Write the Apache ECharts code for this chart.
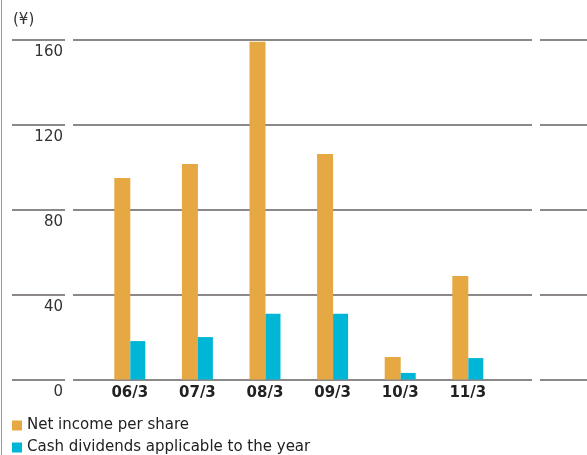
<!DOCTYPE html>
<html>
<head>
<meta charset="utf-8">
<script src="https://cdn.jsdelivr.net/npm/echarts@6/dist/echarts.min.js"></script>
<style>
html,body{margin:0;padding:0;background:#fff;}
#chart{width:587px;height:455px;}
</style>
</head>
<body>
<div id="chart"></div>
<script>
var categories = ['06/3', '07/3', '08/3', '09/3', '10/3', '11/3'];
var netIncome = [95.0, 101.6, 159.2, 106.3, 10.6, 48.8];
var dividends = [18.1, 20.0, 31.0, 31.0, 3.1, 10.1];
var seriesNames = ['Net income per share', 'Cash dividends applicable to the year'];
var yMin = 0, yMax = 160, yStep = 40;

var FONT = 'DejaVu Sans';
var GRID_COLOR = '#8d8888';
var TOP = 40, BOTTOM = 75.5;

function lineGrid(left, right) {
  return {left: left, right: right, top: TOP, bottom: BOTTOM, containLabel: false};
}
function hiddenX(gi) {
  return {gridIndex: gi, type: 'value', show: false};
}
function splitY(gi, extra) {
  var o = {
    gridIndex: gi, type: 'value', min: yMin, max: yMax, interval: yStep,
    axisLine: {show: false}, axisTick: {show: false},
    axisLabel: {show: false},
    splitLine: {show: true, lineStyle: {color: GRID_COLOR, width: 2}}
  };
  if (extra) for (var k in extra) o[k] = extra[k];
  return o;
}
function legendFor(name, top) {
  return {
    orient: 'horizontal', left: 7, top: top,
    itemWidth: 10, itemHeight: 10, itemGap: 0,
    icon: 'rect',
    data: [name],
    textStyle: {fontFamily: FONT, fontSize: 15, color: '#222', padding: [0, 0, 0, 0]}
  };
}

var chart = echarts.init(document.getElementById('chart'), null, {renderer: 'canvas'});
chart.setOption({
  animation: false,
  backgroundColor: '#ffffff',
  textStyle: {fontFamily: FONT},
  title: {
    text: '(¥)', left: 8, top: 8,
    textStyle: {fontFamily: FONT, fontSize: 15, fontWeight: 'normal', color: '#333'}
  },
  legend: [legendFor(seriesNames[0], 413), legendFor(seriesNames[1], 435)],
  grid: [
    {left: 96, right: 85.4, top: TOP, bottom: BOTTOM, containLabel: false},
    lineGrid(73, 55),
    lineGrid(540, 0),
    lineGrid(12, 522)
  ],
  xAxis: [
    {
      gridIndex: 0, type: 'category', data: categories,
      axisLine: {show: false}, axisTick: {show: false},
      axisLabel: {margin: 6, fontFamily: FONT, fontSize: 15, fontWeight: 'bold', color: '#222'}
    },
    hiddenX(1), hiddenX(2), hiddenX(3)
  ],
  yAxis: [
    {gridIndex: 0, type: 'value', min: yMin, max: yMax, interval: yStep, show: false},
    splitY(1), splitY(2),
    splitY(3, {
      position: 'right',
      axisLabel: {show: true, inside: true, margin: 2, verticalAlign: 'top', padding: [5, 0, 0, 0],
                  fontFamily: FONT, fontSize: 15, color: '#333'}
    })
  ],
  series: [
    {
      name: seriesNames[0], type: 'bar', xAxisIndex: 0, yAxisIndex: 0,
      data: netIncome, barWidth: 16, barGap: '0%',
      itemStyle: {color: '#E6A842'}, z: 3
    },
    {
      name: seriesNames[1], type: 'bar', xAxisIndex: 0, yAxisIndex: 0,
      data: dividends, barWidth: 15, barGap: '0%',
      itemStyle: {color: '#00B6D6'}, z: 3
    }
  ],
  graphic: [
    {type: 'line', shape: {x1: 1.5, y1: 0, x2: 1.5, y2: 455}, style: {stroke: '#9a9a9a', lineWidth: 1}, silent: true}
  ]
});
</script>
</body>
</html>
